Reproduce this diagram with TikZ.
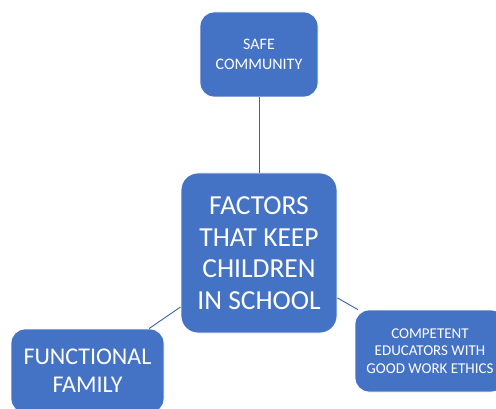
\documentclass[tikz,border=0pt]{standalone}
\usepackage{fontspec}
\setmainfont{Carlito}
\definecolor{boxblue}{HTML}{4472C4}
\definecolor{linkblue}{HTML}{3B62A8}
\begin{document}
\begin{tikzpicture}[x=1pt,y=-1pt,
  box/.style={draw=white, line width=0.8pt, fill=boxblue, text=white, rounded corners=14pt, inner sep=0pt, align=center},
  link/.style={draw=linkblue, line width=0.9pt}]
\useasboundingbox (0,0) rectangle (496,409);
\node[box, minimum width=118pt, minimum height=85pt, font=\fontsize{16}{19.5}\selectfont] (safe) at (259,54.5) {SAFE\\COMMUNITY};
\node[box, minimum width=156pt, minimum height=160pt, rounded corners=17pt, font=\fontsize{27.5}{31.5}\selectfont] (center) at (259,253) {FACTORS\\THAT KEEP\\CHILDREN\\IN SCHOOL};
\node[box, minimum width=153pt, minimum height=84pt, font=\fontsize{24}{28}\selectfont] (family) at (87.5,371) {FUNCTIONAL\\FAMILY};
\node[box, minimum width=150pt, minimum height=82pt, font=\fontsize{15}{17.5}\selectfont] (edu) at (430,351) {COMPETENT\\EDUCATORS WITH\\GOOD WORK ETHICS};
\draw[link] (center) -- (safe);
\draw[link] (center) -- (family);
\draw[link] (center) -- (edu);
\end{tikzpicture}
\end{document}
